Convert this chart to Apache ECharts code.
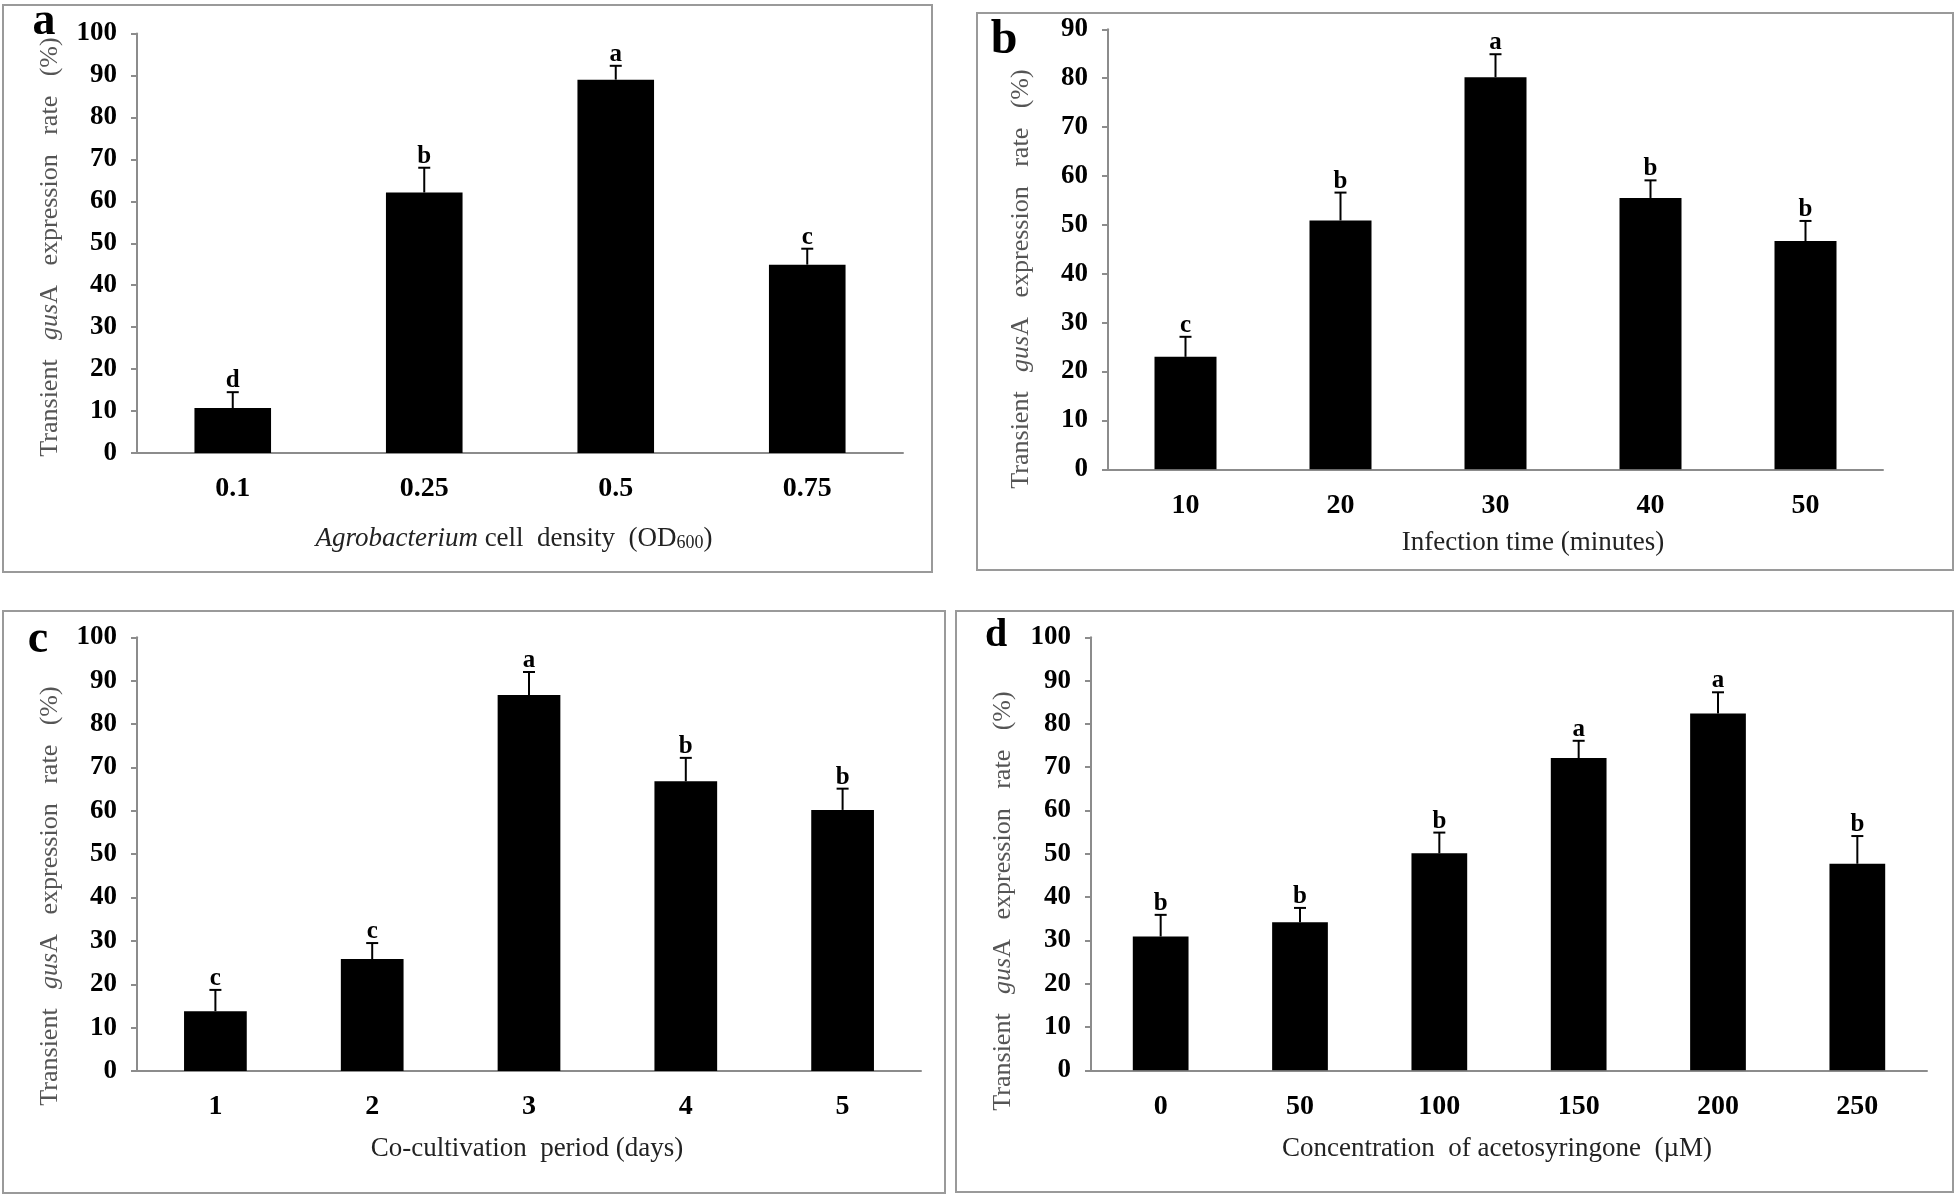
<!DOCTYPE html>
<html>
<head>
<meta charset="utf-8">
<script src="https://cdn.jsdelivr.net/npm/echarts@6/dist/echarts.min.js"></script>
<style>
  html, body { margin: 0; padding: 0; background: #fff; }
  #main { width: 1960px; height: 1202px; }
</style>
</head>
<body>
<div id="main"></div>
<script>
// a: Agrobacterium cell density
var catsA = ['0.1', '0.25', '0.5', '0.75']
var meanA = [10.7, 62.1, 89.0, 44.9]
var errA = [3.8, 5.9, 3.3, 3.8]
var letA = ['d', 'b', 'a', 'c']
// b: infection time
var catsB = ['10', '20', '30', '40', '50']
var meanB = [23.0, 50.9, 80.2, 55.5, 46.7]
var errB = [4.1, 5.7, 4.7, 3.6, 4.1]
var letB = ['c', 'b', 'a', 'b', 'b']
// c: co-cultivation period
var catsC = ['1', '2', '3', '4', '5']
var meanC = [13.8, 25.8, 86.7, 66.8, 60.2]
var errC = [4.9, 3.7, 5.3, 5.4, 4.9]
var letC = ['c', 'c', 'a', 'b', 'b']
// d: acetosyringone
var catsD = ['0', '50', '100', '150', '200', '250']
var meanD = [30.9, 34.2, 50.1, 72.1, 82.4, 47.7]
var errD = [5.0, 3.3, 4.8, 4.0, 4.9, 6.4]
var letD = ['b', 'b', 'b', 'a', 'a', 'b']

var yMax = [100, 90, 100, 100]

var FONT = '"Liberation Serif", "Times New Roman", serif'
var AXIS_GRAY = '#8c8c8c'

var panels = [
  {cats: catsA, mean: meanA, err: errA, lets: letA},
  {cats: catsB, mean: meanB, err: errB, lets: letB},
  {cats: catsC, mean: meanC, err: errC, lets: letC},
  {cats: catsD, mean: meanD, err: errD, lets: letD}
]

var grids = [
  {left: 137, top: 33.5, width: 766, height: 419.5},
  {left: 1108, top: 29.3, width: 775, height: 440},
  {left: 137, top: 637.3, width: 784, height: 433.7},
  {left: 1091, top: 637.3, width: 836, height: 433}
]

var xAxes = [], yAxes = [], series = []
for (var i = 0; i < panels.length; i++) {
  xAxes.push({
    type: 'category',
    gridIndex: i,
    data: panels[i].cats,
    axisLine: {lineStyle: {color: AXIS_GRAY, width: 2}},
    axisTick: {length: 8, lineStyle: {color: AXIS_GRAY, width: 2}},
    axisLabel: {fontFamily: FONT, fontWeight: 'bold', fontSize: 28, color: '#000', margin: 22}
  })
  yAxes.push({
    type: 'value',
    gridIndex: i,
    min: 0,
    max: yMax[i],
    interval: 10,
    splitLine: {show: false},
    axisLine: {show: true, lineStyle: {color: AXIS_GRAY, width: 2}},
    axisTick: {show: true, length: 6, lineStyle: {color: AXIS_GRAY, width: 2}},
    axisLabel: {fontFamily: FONT, fontWeight: 'bold', fontSize: 27, color: '#000', margin: 20}
  })
  series.push({
    type: 'bar',
    xAxisIndex: i,
    yAxisIndex: i,
    data: panels[i].mean,
    barWidth: '40%',
    itemStyle: {color: '#000'}
  })
  var errData = []
  for (var j = 0; j < panels[i].mean.length; j++) {
    errData.push([j, panels[i].mean[j], panels[i].err[j]])
  }
  series.push({
    type: 'custom',
    xAxisIndex: i,
    yAxisIndex: i,
    data: errData,
    encode: {x: 0, y: 1},
    clip: false,
    z: 5,
    renderItem: makeErr(panels[i].lets)
  })
}

function makeErr(lets) {
  return function(params, api) {
    var x = api.value(0), m = api.value(1), e = api.value(2)
    var p0 = api.coord([x, m])
    var p1 = api.coord([x, m + e])
    return {
      type: 'group',
      children: [
        {type: 'line', shape: {x1: p0[0], y1: p0[1], x2: p1[0], y2: p1[1]},
          style: {stroke: '#000', lineWidth: 2}},
        {type: 'line', shape: {x1: p1[0] - 6, y1: p1[1], x2: p1[0] + 6, y2: p1[1]},
          style: {stroke: '#000', lineWidth: 2}},
        {type: 'text', x: p1[0], y: p1[1] + 1,
          style: {text: lets[params.dataIndex], font: 'bold 25px ' + FONT, fill: '#000',
            align: 'center', verticalAlign: 'bottom'}}
      ]
    }
  }
}

function border(x, y, w, h) {
  return {type: 'rect', shape: {x: x, y: y, width: w, height: h}, z: -1,
    style: {fill: 'none', stroke: '#9a9a9a', lineWidth: 2}}
}
function letter(t, x, y, size) {
  return {type: 'text', x: x, y: y,
    style: {text: t, font: 'bold ' + size + 'px ' + FONT, fill: '#000', align: 'center', verticalAlign: 'middle'}}
}
var ytitle = 'Transient   {i|gus}A   expression   rate   (%)'
var yRich = {i: {fontFamily: FONT, fontStyle: 'italic', fontSize: 26, fill: '#555'}}
function yTitle(x, y) {
  return {type: 'text', x: x, y: y, rotation: Math.PI / 2,
    style: {text: ytitle, rich: yRich, fontFamily: FONT, fontSize: 26, fill: '#555',
      align: 'center', verticalAlign: 'middle'}}
}
function xTitle(text, x, y, size, rich) {
  return {type: 'text', x: x, y: y,
    style: {text: text, rich: rich || {}, fontFamily: FONT, fontSize: size, fill: '#222',
      align: 'center', verticalAlign: 'middle'}}
}

var graphics = [
  border(3, 5, 929, 567),
  border(977, 13, 976, 557),
  border(3, 611, 942, 582),
  border(956, 611, 997, 581),
  letter('a', 44, 22, 46),
  letter('b', 1004, 41, 48),
  letter('c', 38, 640, 46),
  letter('d', 996, 636, 40),
  yTitle(50, 247),
  yTitle(1021, 279),
  yTitle(50, 896),
  yTitle(1003, 901),
  xTitle('{it|Agrobacterium} cell  density  (OD{sub|600})', 514, 539, 27, {
    it: {fontFamily: FONT, fontStyle: 'italic', fontSize: 27, fill: '#222'},
    sub: {fontFamily: FONT, fontSize: 18, fill: '#222', verticalAlign: 'bottom', lineHeight: 10}
  }),
  xTitle('Infection time (minutes)', 1533, 543, 27),
  xTitle('Co-cultivation  period (days)', 527, 1149, 27),
  xTitle('Concentration  of acetosyringone  (\u00b5M)', 1497, 1149, 27)
]

var myChart = echarts.init(document.getElementById('main'))
var option = {
  backgroundColor: '#fff',
  animation: false,
  grid: grids,
  xAxis: xAxes,
  yAxis: yAxes,
  series: series,
  graphic: graphics
}
myChart.setOption(option)
</script>
</body>
</html>
